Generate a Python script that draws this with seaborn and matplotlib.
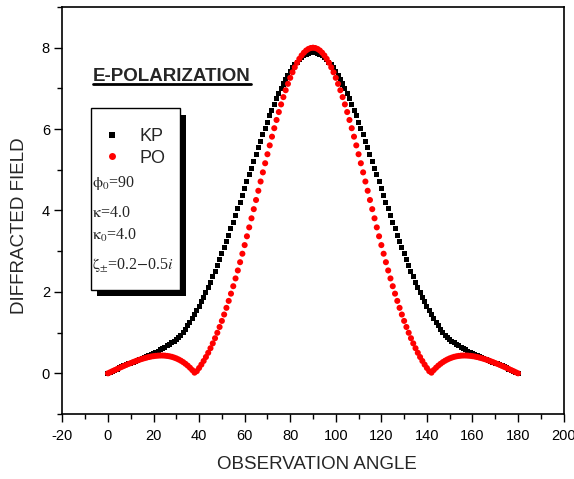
import matplotlib
matplotlib.use("Agg")
import matplotlib.pyplot as plt
import seaborn as sns
import pandas as pd
from matplotlib.lines import Line2D
from matplotlib.patches import Rectangle
from matplotlib.ticker import MultipleLocator

# ---------------- data ----------------
angles = list(range(0, 181))

kp_values = [
    0.000, 0.026, 0.053, 0.079, 0.105, 0.131, 0.156, 0.181, 0.205, 0.229,
    0.252, 0.275, 0.296, 0.317, 0.337, 0.357, 0.380, 0.404, 0.430, 0.456,
    0.483, 0.512, 0.542, 0.573, 0.605, 0.639, 0.674, 0.711, 0.750, 0.792,
    0.836, 0.884, 0.938, 0.999, 1.075, 1.163, 1.251, 1.343, 1.440, 1.541,
    1.646, 1.757, 1.870, 1.989, 2.111, 2.238, 2.369, 2.506, 2.644, 2.787,
    2.933, 3.082, 3.235, 3.390, 3.549, 3.710, 3.872, 4.037, 4.203, 4.370,
    4.538, 4.707, 4.875, 5.043, 5.210, 5.376, 5.541, 5.703, 5.863, 6.019,
    6.172, 6.323, 6.466, 6.607, 6.741, 6.871, 6.992, 7.108, 7.218, 7.320,
    7.414, 7.501, 7.579, 7.648, 7.709, 7.761, 7.804, 7.837, 7.861, 7.875,
    7.880,
    7.875, 7.861, 7.837, 7.804, 7.761, 7.709, 7.648, 7.579, 7.501, 7.414,
    7.320, 7.218, 7.108, 6.992, 6.871, 6.741, 6.607, 6.466, 6.323, 6.172,
    6.019, 5.863, 5.703, 5.541, 5.376, 5.210, 5.043, 4.875, 4.707, 4.538,
    4.370, 4.203, 4.037, 3.872, 3.710, 3.549, 3.390, 3.235, 3.082, 2.933,
    2.787, 2.644, 2.506, 2.369, 2.238, 2.111, 1.989, 1.870, 1.757, 1.646,
    1.541, 1.440, 1.343, 1.251, 1.163, 1.075, 0.999, 0.938, 0.884, 0.836,
    0.792, 0.750, 0.711, 0.674, 0.639, 0.605, 0.573, 0.542, 0.512, 0.483,
    0.456, 0.430, 0.404, 0.380, 0.357, 0.337, 0.317, 0.296, 0.275, 0.252,
    0.229, 0.205, 0.181, 0.156, 0.131, 0.105, 0.079, 0.053, 0.026, 0.000,
]

po_values = [
    0.000, 0.026, 0.053, 0.079, 0.105, 0.131, 0.156, 0.181, 0.205, 0.229,
    0.252, 0.275, 0.296, 0.317, 0.336, 0.354, 0.371, 0.386, 0.400, 0.412,
    0.421, 0.429, 0.434, 0.437, 0.437, 0.434, 0.427, 0.418, 0.405, 0.387,
    0.366, 0.340, 0.310, 0.275, 0.234, 0.189, 0.137, 0.080, 0.016, 0.053,
    0.130, 0.213, 0.303, 0.400, 0.504, 0.616, 0.735, 0.862, 0.996, 1.138,
    1.287, 1.444, 1.608, 1.779, 1.957, 2.140, 2.331, 2.527, 2.730, 2.938,
    3.150, 3.366, 3.585, 3.808, 4.033, 4.258, 4.485, 4.712, 4.937, 5.161,
    5.382, 5.600, 5.814, 6.022, 6.224, 6.419, 6.607, 6.786, 6.955, 7.112,
    7.259, 7.396, 7.519, 7.630, 7.726, 7.809, 7.877, 7.931, 7.969, 7.992,
    8.000,
    7.992, 7.969, 7.931, 7.877, 7.809, 7.726, 7.630, 7.519, 7.396, 7.259,
    7.112, 6.955, 6.786, 6.607, 6.419, 6.224, 6.022, 5.814, 5.600, 5.382,
    5.161, 4.937, 4.712, 4.485, 4.258, 4.033, 3.808, 3.585, 3.366, 3.150,
    2.938, 2.730, 2.527, 2.331, 2.140, 1.957, 1.779, 1.608, 1.444, 1.287,
    1.138, 0.996, 0.862, 0.735, 0.616, 0.504, 0.400, 0.303, 0.213, 0.130,
    0.053, 0.016, 0.080, 0.137, 0.189, 0.234, 0.275, 0.310, 0.340, 0.366,
    0.387, 0.405, 0.418, 0.427, 0.434, 0.437, 0.437, 0.434, 0.429, 0.421,
    0.412, 0.400, 0.386, 0.371, 0.354, 0.336, 0.317, 0.296, 0.275, 0.252,
    0.229, 0.205, 0.181, 0.156, 0.131, 0.105, 0.079, 0.053, 0.026, 0.000,
]

series_names = ["KP", "PO"]
x_ticks = [-20, 0, 20, 40, 60, 80, 100, 120, 140, 160, 180, 200]
y_ticks = [0, 2, 4, 6, 8]
title_text = "E-POLARIZATION"
param_texts = [r"$\mathrm{\phi}_0$=90", r"$\mathrm{\kappa}$=4.0",
               r"$\mathrm{\kappa}_0$=4.0",
               r"$\mathrm{\zeta}_{\pm}$=0.2$-$0.5$i$"]

df = pd.DataFrame({
    "angle": angles * 2,
    "value": kp_values + po_values,
    "series": [series_names[0]] * len(angles) + [series_names[1]] * len(angles),
})

# ---------------- style ----------------
sns.set_style("ticks")
plt.rcParams["font.family"] = ["Liberation Sans", "DejaVu Sans"]
plt.rcParams["axes.unicode_minus"] = False
plt.rcParams["mathtext.fontset"] = "stix"

fig = plt.figure(figsize=(5.74, 4.79), dpi=100)
ax = fig.add_axes([0.1087, 0.1357, 0.8732, 0.8497])

sns.scatterplot(data=df[df["series"] == "KP"], x="angle", y="value",
                marker="s", s=13, color="black", edgecolor="none",
                linewidth=0, ax=ax, legend=False, zorder=2)
sns.scatterplot(data=df[df["series"] == "PO"], x="angle", y="value",
                marker="o", s=19, color="red", edgecolor="none",
                linewidth=0, ax=ax, legend=False, zorder=3)

ax.set_xlim(-20, 200)
ax.set_ylim(-1, 9)
ax.set_xticks(x_ticks)
ax.set_yticks(y_ticks)
ax.xaxis.set_minor_locator(MultipleLocator(10))
ax.yaxis.set_minor_locator(MultipleLocator(1))
ax.tick_params(which="both", direction="out", top=False, right=False,
               colors="black")
ax.tick_params(which="major", length=6, width=1.0, labelsize=10.5, pad=3)
ax.tick_params(axis="x", which="major", pad=5)
ax.tick_params(which="minor", length=3.5, width=1.0)
for sp in ax.spines.values():
    sp.set_visible(True)
    sp.set_linewidth(1.2)
    sp.set_color("black")

ax.set_xlabel("OBSERVATION ANGLE", fontsize=13.5)
ax.set_ylabel("DIFFRACTED FIELD", fontsize=13.5)
ax.xaxis.set_label_coords(0.508, -0.125)
ax.xaxis.label.set_va("center")
ax.yaxis.set_label_coords(-0.0846, 0.462)
ax.yaxis.label.set_va("center")

# legend box with shadow
x0, x1 = 0.0571, 0.2346
yb, yt = 0.3047, 0.7518
dx, dy = 0.0125, 0.016
ax.add_patch(Rectangle((x0 + dx, yb - dy), x1 - x0, yt - yb,
                       transform=ax.transAxes, facecolor="black",
                       edgecolor="black", lw=0, zorder=5))
ax.add_patch(Rectangle((x0, yb), x1 - x0, yt - yb,
                       transform=ax.transAxes, facecolor="white",
                       edgecolor="black", lw=1.0, zorder=6))

handles = [Line2D([], [], marker="s", color="black", ls="none", markersize=4.2,
                  markeredgewidth=0),
           Line2D([], [], marker="o", color="red", ls="none", markersize=5,
                  markeredgewidth=0)]
leg = ax.legend(handles, series_names, loc="upper left",
                bbox_to_anchor=(0.081, 0.702), frameon=False, fontsize=13,
                handlelength=1.0, handletextpad=1.0, labelspacing=0.25,
                borderaxespad=0, borderpad=0)
leg.set_zorder(7)

param_y = [0.5577, 0.484, 0.4275, 0.3563]
for txt, yy in zip(param_texts, param_y):
    ax.text(0.059, yy, txt, transform=ax.transAxes, fontsize=11.5,
            family=["Liberation Serif", "DejaVu Serif"], va="baseline",
            ha="left", zorder=8)

# title with underline
t = ax.text(0.0611, 0.8182, title_text, transform=ax.transAxes,
            fontsize=13.5, fontweight="bold", va="baseline", ha="left",
            zorder=8)
fig.canvas.draw()
bb = t.get_window_extent()
base_disp = ax.transAxes.transform((0.0611, 0.8182))
yline = base_disp[1] - 3.5
inv = fig.transFigure.inverted()
p0 = inv.transform((bb.x0, yline))
p1 = inv.transform((bb.x1, yline))
fig.add_artist(Line2D([p0[0], p1[0]], [p0[1], p1[1]], transform=fig.transFigure,
                      color="black", lw=2.0))

fig.savefig("out.png", dpi=100)
